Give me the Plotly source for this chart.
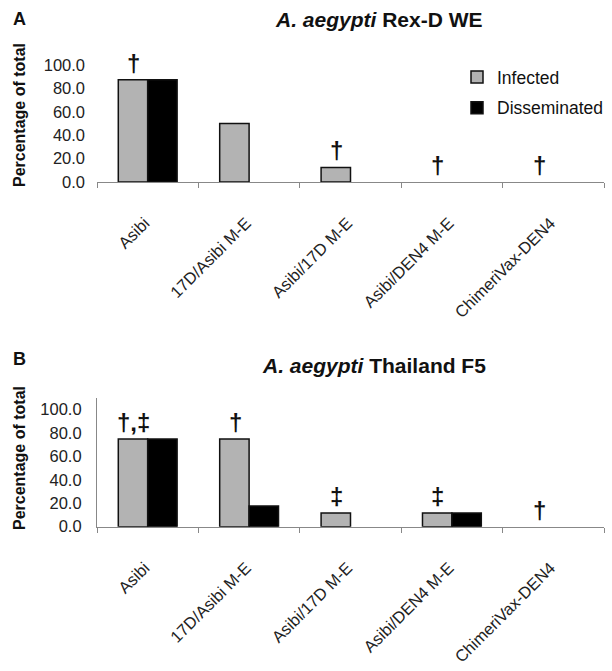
import plotly.graph_objects as go

categories = ["Asibi", "17D/Asibi M-E", "Asibi/17D M-E", "Asibi/DEN4 M-E", "ChimeriVax-DEN4"]

a_infected = [87.5, 50.0, 12.5, 0.0, 0.0]
a_disseminated = [87.5, 0.0, 0.0, 0.0, 0.0]
a_marks = ["†", "", "†", "†", "†"]

b_infected = [75.0, 75.0, 11.8, 11.8, 0.0]
b_disseminated = [75.0, 17.6, 0.0, 11.8, 0.0]
b_marks = ["†,‡", "†", "‡", "‡", "†"]

y_ticks = [0, 20, 40, 60, 80, 100]

FONT = "Arial, Liberation Sans, sans-serif"
GREY = "#b3b3b3"

W, H = 612, 671


def fx(px):
    return px / W


def fy(py):
    return 1 - py / H


def outline(vals):
    return [1.5 if v > 0 else 0 for v in vals]


fig = go.Figure()
for vals, name, color, xa, ya, show in [
    (a_infected, "Infected", GREY, "x", "y", True),
    (a_disseminated, "Disseminated", "black", "x", "y", True),
    (b_infected, "Infected", GREY, "x2", "y2", False),
    (b_disseminated, "Disseminated", "black", "x2", "y2", False),
]:
    fig.add_trace(go.Bar(x=categories, y=vals, name=name,
                         marker=dict(color=color, line=dict(color="#111", width=outline(vals))),
                         xaxis=xa, yaxis=ya, showlegend=show, legendgroup=name))

xdom = [fx(97), fx(604)]

xax = dict(type="category", tickson="boundaries", ticks="outside", ticklen=5, tickcolor="#888",
           showline=True, linecolor="#888", linewidth=1.2, tickangle=-45, automargin=False,
           ticklabelstandoff=24, ticklabelshift=-3,
           tickfont=dict(family=FONT, size=16.5, color="#222"), showgrid=False, domain=xdom)
yax = dict(range=[0, 110], tickvals=y_ticks, tickformat=".1f", showgrid=False, zeroline=False,
           automargin=False, ticklabelstandoff=11,
           tickfont=dict(family=FONT, size=16.5, color="#222"), ticks="")

fig.update_layout(
    width=W, height=H,
    margin=dict(l=0, r=0, t=0, b=0),
    paper_bgcolor="white", plot_bgcolor="white",
    barmode="group", bargap=0.42, bargroupgap=0,
    xaxis=dict(xax, anchor="y"),
    yaxis=dict(yax, domain=[fy(182), fy(53.3)], anchor="x", showline=False),
    xaxis2=dict(xax, anchor="y2"),
    yaxis2=dict(yax, domain=[fy(526.7), fy(398)], anchor="x2", showline=True, linecolor="#888", linewidth=1.2),
    legend=dict(x=fx(457), y=fy(59), xanchor="left", yanchor="top", font=dict(family=FONT, size=17.5, color="#111"),
                itemwidth=30, tracegroupgap=5, bgcolor="rgba(0,0,0,0)"),
    font=dict(family=FONT),
)

ann = []
for xa, ya, inf, marks in [("x", "y", a_infected, a_marks), ("x2", "y2", b_infected, b_marks)]:
    for c, v, m in zip(categories, inf, marks):
        if m:
            ann.append(dict(x=c, y=v, xref=xa, yref=ya, text="<b>" + m + "</b>", showarrow=False, xshift=-14, yshift=1,
                            yanchor="bottom", font=dict(family=FONT, size=24, color="#111")))

ann += [
    dict(x=fx(11), y=fy(19), xref="paper", yref="paper", text="<b>A</b>", showarrow=False,
         xanchor="left", yanchor="middle", font=dict(family=FONT, size=18, color="#111")),
    dict(x=fx(379), y=fy(20), xref="paper", yref="paper", text="<b><i>A. aegypti</i> Rex-D WE</b>", showarrow=False,
         xanchor="center", yanchor="middle", font=dict(family=FONT, size=21, color="#111")),
    dict(x=fx(11), y=fy(359), xref="paper", yref="paper", text="<b>B</b>", showarrow=False,
         xanchor="left", yanchor="middle", font=dict(family=FONT, size=18, color="#111")),
    dict(x=fx(373.5), y=fy(365), xref="paper", yref="paper", text="<b><i>A. aegypti</i> Thailand F5</b>", showarrow=False,
         xanchor="center", yanchor="middle", font=dict(family=FONT, size=21, color="#111")),
    dict(x=fx(19), y=fy(115), xref="paper", yref="paper", text="<b>Percentage of total</b>", showarrow=False,
         textangle=-90, xanchor="center", yanchor="middle", font=dict(family=FONT, size=16, color="#111")),
    dict(x=fx(19), y=fy(458), xref="paper", yref="paper", text="<b>Percentage of total</b>", showarrow=False,
         textangle=-90, xanchor="center", yanchor="middle", font=dict(family=FONT, size=16, color="#111")),
]
fig.update_layout(annotations=ann)

fig.write_html("out.html", config={"displayModeBar": False},
               post_script="document.body.style.margin='0';")
